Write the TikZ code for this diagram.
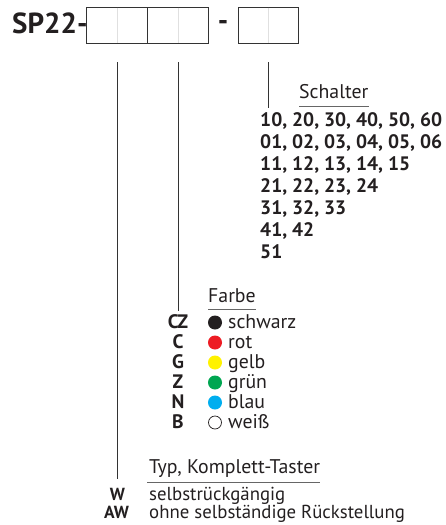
\documentclass[tikz,border=0pt]{standalone}
\usepackage{fontspec}
\setmainfont{PT Sans}
\definecolor{ln}{HTML}{333333}
\definecolor{ul}{HTML}{666666}
\definecolor{cblack}{HTML}{231F20}
\definecolor{cred}{HTML}{ED1C24}
\definecolor{cyellow}{HTML}{FFF200}
\definecolor{cgreen}{HTML}{00A651}
\definecolor{cblue}{HTML}{00AEEF}
\begin{document}
\begin{tikzpicture}[x=1pt,y=-1pt,
  cell/.style={draw=ln,line width=0.9pt,minimum width=61pt,minimum height=36pt,inner sep=0},
  lead/.style={draw=ln,line width=0.8pt},
  uline/.style={draw=ul,line width=1.2pt},
  head/.style={anchor=base west,inner sep=0,font=\fontsize{19.8}{20}\selectfont,text=cblack},
  txt/.style={anchor=base west,inner sep=0,font=\fontsize{19.8}{20}\selectfont,text=cblack},
  small/.style={anchor=base west,inner sep=0,font=\fontsize{18.8}{19}\selectfont,text=cblack},
  num/.style={anchor=base west,inner sep=0,font=\fontsize{19.5}{20}\selectfont\bfseries,text=cblack},
  code/.style={anchor=base,inner sep=0,font=\fontsize{19.5}{20}\selectfont\bfseries,text=cblack},
  dot/.style={circle,inner sep=0,minimum size=14pt}]
\useasboundingbox (0,0) rectangle (445,525);
% header
\node[anchor=base west,inner sep=0,font=\fontsize{29}{29}\selectfont\bfseries,text=cblack] (sp) at (12,33) {SP22-};
\node[cell] (b1) at (116.5,25) {};
\node[cell] (b2) at (177.5,25) {};
\node[cell,minimum width=60pt] (b3) at (268,25) {};
\node[anchor=center,inner sep=0,font=\fontsize{29}{29}\selectfont\bfseries,text=cblack] (dash) at (223,25) {-};
% faint tick lines inside the boxes
\draw[black!12,line width=0.5pt] (117,7.5) -- (117,42.5) (178,7.5) -- (178,42.5) (268,7.5) -- (268,42.5);
% leader coordinates
\coordinate (wt) at (117,62);
\coordinate (wb) at (117,479);
\coordinate (ft) at (178,62);
\coordinate (fb) at (178,311);
\coordinate (st) at (268,62);
\coordinate (sb) at (268,108);
\draw[lead] (wt) -- (wb);
\draw[lead] (ft) -- (fb);
\draw[lead] (st) -- (sb);
% Schalter
\node[head] (sh) at (299,98) {Schalter};
\draw[uline] (sh.south west) ++(0,8) coordinate (su1) -- (su1 -| sh.south east);
\node[num] (n1) at (260,126) {10, 20, 30, 40, 50, 60};
\node[num] (n2) at (260,148) {01, 02, 03, 04, 05, 06};
\node[num] (n3) at (260,170) {11, 12, 13, 14, 15};
\node[num] (n4) at (260,192) {21, 22, 23, 24};
\node[num] (n5) at (260,214) {31, 32, 33};
\node[num] (n6) at (260,236) {41, 42};
\node[num] (n7) at (260,258) {51};
% Farbe
\node[head] (fh) at (208,302) {Farbe};
\draw[uline] (fh.south west) ++(0,7) coordinate (fu1) -- (fu1 -| fh.south east);
\node[code] (cz) at (178,328) {CZ};
\node[code] (cc) at (178,348) {C};
\node[code] (cg) at (178,368) {G};
\node[code] (cz2) at (178,388) {Z};
\node[code] (cn) at (178,408) {N};
\node[code] (cb) at (178,428) {B};
\node[dot,fill=cblack] (d1) at (215,322.5) {};
\node[dot,fill=cred] (d2) at (215,342.5) {};
\node[dot,fill=cyellow] (d3) at (215,362.5) {};
\node[dot,fill=cgreen] (d4) at (215,382.5) {};
\node[dot,fill=cblue] (d5) at (215,402.5) {};
\node[dot,draw=cblack,line width=0.7pt,minimum size=13pt] (d6) at (215,422.5) {};
\node[txt] (t1) at (228,328) {schwarz};
\node[txt] (t2) at (228,348) {rot};
\node[txt] (t3) at (228,368) {gelb};
\node[txt] (t4) at (228,388) {grün};
\node[txt] (t5) at (228,408) {blau};
\node[txt] (t6) at (228,428) {weiß};
% Typ
\node[head] (th) at (149,473) {Typ, Komplett-Taster};
\draw[uline] (th.south west) ++(-2,5) coordinate (tu1) -- (tu1 -| th.south east);
\node[code,font=\fontsize{17.5}{18}\selectfont\bfseries] (w) at (117.5,500.5) {W};
\node[code,font=\fontsize{17.5}{18}\selectfont\bfseries] (aw) at (116.5,518) {AW};
\node[small] (tw) at (149,500.5) {selbstrückgängig};
\node[small] (taw) at (149,518) {ohne selbständige Rückstellung};
\end{tikzpicture}
\end{document}
